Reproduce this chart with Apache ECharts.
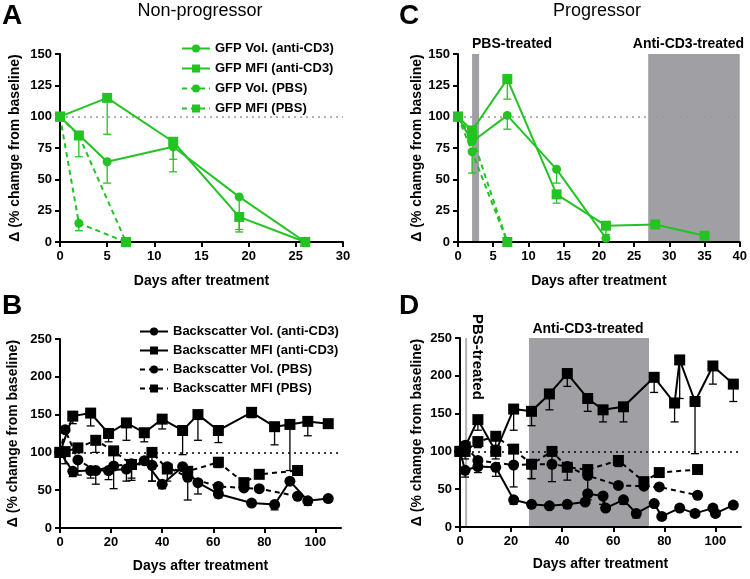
<!DOCTYPE html>
<html><head><meta charset="utf-8">
<script src="https://cdn.jsdelivr.net/npm/echarts@6/dist/echarts.min.js"></script>
<style>html,body{margin:0;padding:0;background:#fff}#c{width:750px;height:579px}</style>
</head><body><div id="c"></div>
<script>
// ---------- Panel A : Non-progressor, GFP ----------
const aVolAnti = [[0,100],[5,64],[12,76],[19,36],[26,0]];
const aMfiAnti = [[0,100],[5,115],[12,80],[19,20],[26,0]];
const aVolPbs  = [[0,100],[2,15],[7,0]];
const aMfiPbs  = [[0,100],[2,85],[7,0]];
const aVolAntiErr = [[5,47],[12,56],[19,8]];
const aMfiAntiErr = [[5,86],[12,66],[19,10]];
const aVolPbsErr  = [[2,9]];
const aMfiPbsErr  = [[2,68]];

// ---------- Panel C : Progressor, GFP ----------
const cVolAnti = [[0,100],[2,80],[7,101],[14,58],[21,3]];
const cMfiAnti = [[0,100],[2,89],[7,130],[14,38],[21,13],[28,14],[35,5]];
const cVolPbs  = [[0,100],[2,72],[7,0]];
const cMfiPbs  = [[0,100],[2,84],[7,0]];
const cVolAntiErr = [[7,90],[14,47]];
const cMfiAntiErr = [[7,114],[14,31],[21,6],[28,11],[35,2]];
const cVolPbsErr  = [[2,55]];
const cBands = [[2,3],[27,40]];

// ---------- Panel B : Non-progressor, Backscatter ----------
const bVolAnti = [[0,100],[5,75],[12,76],[19,76],[26,78],[33,89],[40,58],[48,81],[54,60],[62,45],[75,33],[84,31],[90,62],[97,36],[105,39]];
const bMfiAnti = [[0,100],[5,148],[12,152],[19,125],[26,139],[33,126],[40,144],[48,129],[54,150],[62,129],[75,153],[84,134],[90,137],[97,141],[105,138]];
const bVolPbs  = [[0,100],[2,130],[7,90],[14,76],[21,82],[28,85],[36,83],[42,81],[50,67],[62,55],[72,53],[78,52],[93,42]];
const bMfiPbs  = [[0,100],[2,101],[7,106],[14,116],[21,102],[28,84],[36,100],[42,78],[50,75],[62,87],[72,60],[78,71],[93,76]];
const bVolAntiErr = [[5,68],[12,66],[19,64],[26,62],[33,84],[40,52],[54,45],[62,40],[84,24],[97,30]];
const bMfiAntiErr = [[5,138],[12,135],[19,114],[26,116],[33,114],[40,131],[48,97],[54,116],[62,113],[75,146],[84,110],[90,76],[97,122]];
const bVolPbsErr  = [[7,70],[14,58],[21,52],[28,63],[36,62],[50,37],[62,50]];
const bMfiPbsErr  = [[2,85],[14,100],[21,80],[28,66],[36,62],[42,62],[62,80],[72,52]];

// ---------- Panel D : Progressor, Backscatter ----------
const dVolAnti = [[0,100],[2,75],[7,80],[14,79],[21,36],[28,30],[35,28],[42,30],[49,33],[50,44],[56,41],[57,25],[64,36],[69,18],[76,31],[79,14],[86,25],[92,18],[99,25],[100,18],[107,29]];
const dMfiAnti = [[0,100],[2,106],[7,142],[14,100],[21,156],[28,153],[35,176],[42,203],[50,170],[56,155],[64,159],[76,198],[84,164],[86,221],[92,166],[99,213],[107,189]];
const dVolPbs  = [[0,100],[2,108],[7,88],[21,82],[28,83],[36,83],[42,80],[50,68],[62,55],[72,54],[78,53],[93,42]];
const dMfiPbs  = [[0,100],[2,100],[7,113],[14,120],[21,103],[28,83],[36,100],[42,79],[50,76],[62,88],[72,60],[78,72],[93,76]];
const dVolAntiErr = [[2,66],[7,72],[14,67],[21,30],[42,25],[56,30],[64,30],[69,12]];
const dMfiAntiErr = [[2,90],[7,128],[14,90],[21,128],[28,134],[35,155],[42,186],[50,153],[56,139],[64,139],[76,178],[84,139],[86,170],[92,97],[99,189],[107,166]];
const dVolPbsErr  = [[28,64],[50,36]];
const dMfiPbsErr  = [[7,105],[14,108],[21,53],[28,64],[36,60],[42,62],[62,80]];
const dBandsPbs  = [[2,2.8]];
const dBandsAnti = [[27,74]];

const xTicksAC = [[0,5,10,15,20,25,30],[0,5,10,15,20,25,30,35,40]];
const xTicksBD = [0,20,40,60,80,100];

const GREEN = '#22c322';
const BLACK = '#000';
const FONT = 'Arial, "Liberation Sans", sans-serif';

function errSeries(gi, pts, errs, color){
  const data = errs.map(e => { const p = pts.find(q => q[0] === e[0]); return [e[0], p[1], e[1]]; });
  return {type:'custom', xAxisIndex:gi, yAxisIndex:gi, z:3, silent:true, data,
    encode:{x:0, y:[1,2]},
    renderItem(params, api){
      const x = api.value(0), y = api.value(1), lo = api.value(2);
      const p1 = api.coord([x,y]), p2 = api.coord([x,lo]);
      return {type:'group', children:[
        {type:'line', shape:{x1:p1[0],y1:p1[1],x2:p2[0],y2:p2[1]}, style:{stroke:color, lineWidth:1.3}},
        {type:'line', shape:{x1:p2[0]-4,y1:p2[1],x2:p2[0]+4,y2:p2[1]}, style:{stroke:color, lineWidth:1.3}}
      ]};
    }};
}
function bandSeries(gi, bands, yTop, color){
  return {type:'custom', xAxisIndex:gi, yAxisIndex:gi, z:0, silent:true, data:bands,
    encode:{x:[0,1]},
    renderItem(params, api){
      const a = api.coord([api.value(0), yTop]), b = api.coord([api.value(1), 0]);
      return {type:'rect', shape:{x:a[0], y:a[1], width:b[0]-a[0], height:b[1]-a[1]}, style:{fill:color}};
    }};
}
function lineSeries(gi, name, data, color, dashed, sym, size, ref){
  const s = {type:'line', name, xAxisIndex:gi, yAxisIndex:gi, data, z:5,
    symbol: sym, symbolSize: size, showAllSymbol:true,
    lineStyle:{color, width:2, type: dashed ? [5,4] : 'solid'},
    itemStyle:{color},
    emphasis:{disabled:true}};
  if (ref) s.markLine = {silent:true, symbol:'none', label:{show:false},
      lineStyle:{color:ref, type:[2,4], width:1.5}, data:[{yAxis:100}]};
  return s;
}
const grids = [
  {left:60, top:54, width:283, height:188},
  {left:60, top:339, width:281, height:189},
  {left:458, top:54, width:283, height:188},
  {left:460, top:338, width:281, height:189}
];
const axisCommon = {
  axisLine:{lineStyle:{color:'#000', width:2}},
  axisTick:{length:5, lineStyle:{color:'#000', width:2}},
  splitLine:{show:false},
  axisLabel:{color:'#000', fontWeight:'bold', fontSize:13, fontFamily:FONT}
};
function xAx(gi, max, interval, ticks, gap){
  return Object.assign({}, axisCommon, {type:'value', gridIndex:gi, min:0, max, interval,
    name:'Days after treatment', nameLocation:'middle', nameGap:gap,
    nameTextStyle:{color:'#000', fontWeight:'bold', fontSize:14, fontFamily:FONT},
    axisTick:Object.assign({}, axisCommon.axisTick, {customValues:ticks}),
    axisLabel:Object.assign({}, axisCommon.axisLabel, {customValues:ticks, margin:8})});
}
function yAx(gi, max, interval, gap){
  return Object.assign({}, axisCommon, {type:'value', gridIndex:gi, min:0, max, interval,
    name:'Δ (% chamge from baseline)', nameLocation:'middle', nameGap:gap,
    nameTextStyle:{color:'#000', fontWeight:'bold', fontSize:14, fontFamily:FONT}});
}
const legendText = {color:'#000', fontWeight:'bold', fontSize:13, fontFamily:FONT};

const series = [
  // A
  lineSeries(0,'GFP Vol. (anti-CD3)', aVolAnti, GREEN, false, 'circle', 9, '#999'),
  lineSeries(0,'GFP MFI (anti-CD3)', aMfiAnti, GREEN, false, 'rect', 10),
  lineSeries(0,'GFP Vol. (PBS)', aVolPbs, GREEN, true, 'circle', 9),
  lineSeries(0,'GFP MFI (PBS)', aMfiPbs, GREEN, true, 'rect', 10),
  errSeries(0, aVolAnti, aVolAntiErr, GREEN), errSeries(0, aMfiAnti, aMfiAntiErr, GREEN),
  errSeries(0, aVolPbs, aVolPbsErr, GREEN), errSeries(0, aMfiPbs, aMfiPbsErr, GREEN),
  // B
  lineSeries(1,'Backscatter Vol. (anti-CD3)', bVolAnti, BLACK, false, 'circle', 11, '#000'),
  lineSeries(1,'Backscatter MFI (anti-CD3)', bMfiAnti, BLACK, false, 'rect', 11),
  lineSeries(1,'Backscatter Vol. (PBS)', bVolPbs, BLACK, true, 'circle', 11),
  lineSeries(1,'Backscatter MFI (PBS)', bMfiPbs, BLACK, true, 'rect', 11),
  errSeries(1, bVolAnti, bVolAntiErr, BLACK), errSeries(1, bMfiAnti, bMfiAntiErr, BLACK),
  errSeries(1, bVolPbs, bVolPbsErr, BLACK), errSeries(1, bMfiPbs, bMfiPbsErr, BLACK),
  // C
  bandSeries(2, cBands, 150, '#a09fa4'),
  lineSeries(2,'cVolAnti', cVolAnti, GREEN, false, 'circle', 9, '#999'),
  lineSeries(2,'cMfiAnti', cMfiAnti, GREEN, false, 'rect', 10),
  lineSeries(2,'cVolPbs', cVolPbs, GREEN, true, 'circle', 9),
  lineSeries(2,'cMfiPbs', cMfiPbs, GREEN, true, 'rect', 10),
  errSeries(2, cVolAnti, cVolAntiErr, GREEN), errSeries(2, cMfiAnti, cMfiAntiErr, GREEN),
  errSeries(2, cVolPbs, cVolPbsErr, GREEN),
  // D
  bandSeries(3, dBandsAnti, 250, '#a09fa4'),
  bandSeries(3, dBandsPbs, 250, '#b4b4b4'),
  lineSeries(3,'dVolAnti', dVolAnti, BLACK, false, 'circle', 11, '#000'),
  lineSeries(3,'dMfiAnti', dMfiAnti, BLACK, false, 'rect', 11),
  lineSeries(3,'dVolPbs', dVolPbs, BLACK, true, 'circle', 11),
  lineSeries(3,'dMfiPbs', dMfiPbs, BLACK, true, 'rect', 11),
  errSeries(3, dVolAnti, dVolAntiErr, BLACK), errSeries(3, dMfiAnti, dMfiAntiErr, BLACK),
  errSeries(3, dVolPbs, dVolPbsErr, BLACK), errSeries(3, dMfiPbs, dMfiPbsErr, BLACK)
];

const chart = echarts.init(document.getElementById('c'), null, {renderer:'canvas'});
chart.setOption({
  animation:false,
  backgroundColor:'#fff',
  grid: grids,
  xAxis: [xAx(0,30,5,xTicksAC[0],32), xAx(1,110,20,xTicksBD,31), xAx(2,40,5,xTicksAC[1],32), xAx(3,110,20,xTicksBD,30)],
  yAxis: [yAx(0,150,25,38), yAx(1,250,50,40), yAx(2,150,25,29), yAx(3,250,50,36)],
  legend: [
    {orient:'vertical', left:176, top:37, itemWidth:28, itemHeight:10, itemGap:7, textStyle:legendText,
     data:['GFP Vol. (anti-CD3)','GFP MFI (anti-CD3)','GFP Vol. (PBS)','GFP MFI (PBS)']},
    {orient:'vertical', left:134, top:320, itemWidth:28, itemHeight:10, itemGap:6, textStyle:legendText,
     data:['Backscatter Vol. (anti-CD3)','Backscatter MFI (anti-CD3)','Backscatter Vol. (PBS)','Backscatter MFI (PBS)']}
  ],
  graphic: [
    {type:'text', left:2, top:2, style:{text:'A', font:'bold 28px '+FONT, fill:'#000'}},
    {type:'text', left:399, top:2, style:{text:'C', font:'bold 28px '+FONT, fill:'#000'}},
    {type:'text', left:2, top:292, style:{text:'B', font:'bold 28px '+FONT, fill:'#000'}},
    {type:'text', left:399, top:292, style:{text:'D', font:'bold 28px '+FONT, fill:'#000'}},
    {type:'text', x:200, y:2, style:{text:'Non-progressor', font:'18px '+FONT, fill:'#000', align:'center'}},
    {type:'text', x:597, y:2, style:{text:'Progressor', font:'18px '+FONT, fill:'#000', align:'center'}},
    {type:'text', x:472, y:37, style:{text:'PBS-treated', font:'bold 14px '+FONT, fill:'#000'}},
    {type:'text', x:744, y:37, style:{text:'Anti-CD3-treated', font:'bold 14px '+FONT, fill:'#000', align:'right'}},
    {type:'text', x:588, y:322, style:{text:'Anti-CD3-treated', font:'bold 14px '+FONT, fill:'#000', align:'center'}},
    {type:'text', x:485, y:314, rotation:-Math.PI/2, style:{text:'PBS-treated', font:'bold 15px '+FONT, fill:'#000'}}
  ],
  series
});
</script></body></html>
